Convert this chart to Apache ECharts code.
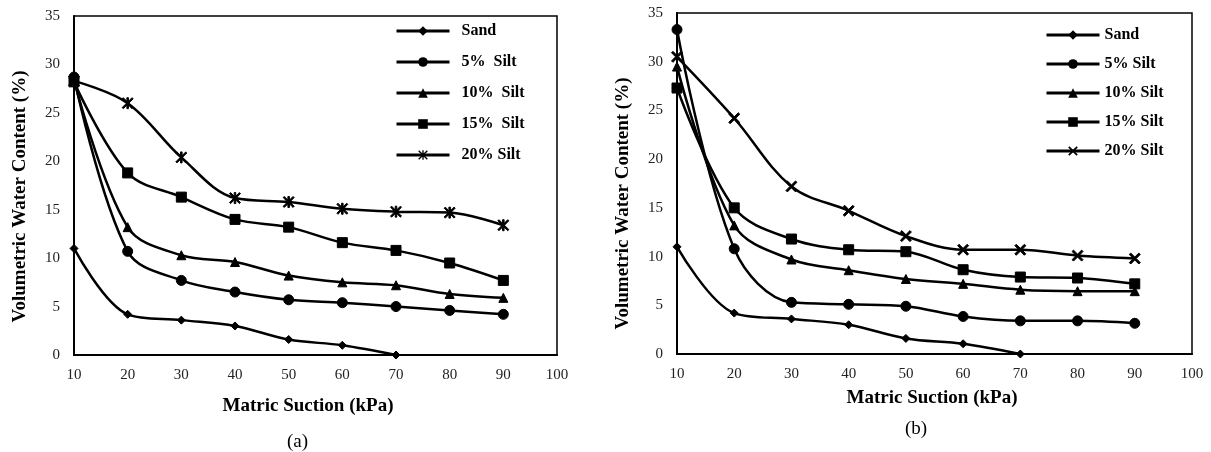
<!DOCTYPE html>
<html>
<head>
<meta charset="utf-8">
<script src="https://cdn.jsdelivr.net/npm/echarts@6/dist/echarts.min.js"></script>
<style>
  html, body { margin: 0; padding: 0; background: #fff; }
  #chart { width: 1211px; height: 452px; }
</style>
</head>
<body>
<div id="chart"></div>
<script>
// matric suction (kPa)
const suction = [10, 20, 30, 40, 50, 60, 70, 80, 90]
const seriesNames = ['Sand', '5% Silt', '10% Silt', '15% Silt', '20% Silt']
const legendNamesA = ['Sand', '5%  Silt', '10%  Silt', '15%  Silt', '20% Silt']

// panel (a) volumetric water content (%)
const sandA = [11.0, 4.2, 3.6, 3.0, 1.6, 1.0, 0]
const silt5A = [28.7, 10.7, 7.7, 6.5, 5.7, 5.4, 5.0, 4.6, 4.2]
const silt10A = [28.4, 13.2, 10.3, 9.6, 8.2, 7.5, 7.2, 6.3, 5.9]
const silt15A = [28.2, 18.8, 16.3, 14.0, 13.2, 11.6, 10.8, 9.5, 7.7]
const silt20A = [28.3, 26.0, 20.4, 16.2, 15.8, 15.1, 14.8, 14.7, 13.4]

// panel (b)
const sandB = [11.0, 4.2, 3.6, 3.0, 1.6, 1.05, 0]
const silt5B = [33.3, 10.8, 5.3, 5.1, 4.9, 3.85, 3.4, 3.4, 3.15]
const silt10B = [29.5, 13.2, 9.7, 8.6, 7.7, 7.2, 6.6, 6.45, 6.45]
const silt15B = [27.3, 15.0, 11.8, 10.7, 10.5, 8.65, 7.9, 7.8, 7.2]
const silt20B = [30.5, 24.2, 17.2, 14.7, 12.1, 10.7, 10.7, 10.1, 9.8]

const FONT = 'Liberation Serif'
const asterisk = 'path://M1,0 L5,4 L9,0 L10,1 L6,5 L10,9 L9,10 L5,6 L1,10 L0,9 L4,5 L0,1 Z M4.3,0 L5.7,0 L5.7,10 L4.3,10 Z'
const cross = 'path://M1.3,0 L5,3.7 L8.7,0 L10,1.3 L6.3,5 L10,8.7 L8.7,10 L5,6.3 L1.3,10 L0,8.7 L3.7,5 L0,1.3 Z'

const symbolsA = [['diamond', 8], ['circle', 10], ['triangle', 9], ['rect', 10], [asterisk, 11]]
const symbolsB = [['diamond', 8], ['circle', 10], ['triangle', 9], ['rect', 10], [cross, 11]]

const pair = (ys) => ys.map((v, i) => [suction[i], v])

const makeSeries = (prefix, datas, symbols, idx) => datas.map((d, i) => ({
  name: prefix + seriesNames[i],
  type: 'line',
  xAxisIndex: idx,
  yAxisIndex: idx,
  data: pair(d),
  smooth: 0.35,
  symbol: symbols[i][0],
  symbolSize: symbols[i][1],
  lineStyle: { color: '#000', width: 2.5 },
  itemStyle: { color: '#000', borderColor: '#000' },
  emphasis: { disabled: true },
  animation: false
}))

const xAxisBase = (idx, gap, pad) => ({
  type: 'value',
  gridIndex: idx,
  min: 10,
  max: 100,
  interval: 10,
  name: 'Matric Suction (kPa)',
  nameLocation: 'middle',
  nameGap: gap,
  nameTextStyle: { fontFamily: FONT, fontWeight: 'bold', fontSize: 19, color: '#000', padding: pad },
  axisLine: { lineStyle: { color: '#000', width: 2 } },
  axisTick: { show: false },
  axisLabel: { fontFamily: FONT, fontSize: 15, color: '#222', margin: 13 },
  splitLine: { show: false }
})

const yAxisBase = (idx, pad) => ({
  type: 'value',
  gridIndex: idx,
  min: 0,
  max: 35,
  interval: 5,
  name: 'Volumetric Water Content (%)',
  nameLocation: 'middle',
  nameGap: 44,
  nameTextStyle: { fontFamily: FONT, fontWeight: 'bold', fontSize: 19, color: '#000', padding: pad },
  axisLine: { show: true, lineStyle: { color: '#000', width: 2 } },
  axisTick: { show: false },
  axisLabel: { fontFamily: FONT, fontSize: 15, color: '#222', margin: 14 },
  splitLine: { show: false }
})

const legendBase = (prefix, names, left, top, gap, textPad) => ({
  data: seriesNames.map(n => prefix + n),
  orient: 'vertical',
  left: left,
  top: top,
  padding: 0,
  itemWidth: 53,
  itemHeight: 12,
  itemGap: gap,
  selectedMode: false,
  lineStyle: { width: 3, color: '#000' },
  formatter: (n) => names[seriesNames.indexOf(n.slice(prefix.length))],
  textStyle: { fontFamily: FONT, fontWeight: 'bold', fontSize: 16, color: '#000', padding: [0, 0, 0, textPad] }
})

const chart = echarts.init(document.getElementById('chart'))
chart.setOption({
  backgroundColor: '#fff',
  animation: false,
  title: [
    { text: '(a)', left: 282, top: 428, textStyle: { fontFamily: FONT, fontWeight: 'normal', fontSize: 19, color: '#000' } },
    { text: '(b)', left: 900, top: 415, textStyle: { fontFamily: FONT, fontWeight: 'normal', fontSize: 19, color: '#000' } }
  ],
  grid: [
    { left: 74, top: 16, width: 483, height: 339, show: true, borderColor: '#000', borderWidth: 1.5, backgroundColor: 'transparent' },
    { left: 677, top: 13, width: 515, height: 341, show: true, borderColor: '#000', borderWidth: 1.5, backgroundColor: 'transparent' }
  ],
  xAxis: [xAxisBase(0, 42, [0, 15, 0, 0]), xAxisBase(1, 35, [0, 5, 0, 0])],
  yAxis: [yAxisBase(0, [0, 22, 0, 0]), yAxisBase(1, [0, 40, 0, 0])],
  legend: [
    legendBase('a-', legendNamesA, 395, 23, 15, 7),
    legendBase('b-', seriesNames, 1045, 27, 13, 0)
  ],
  series: [
    ...makeSeries('a-', [sandA, silt5A, silt10A, silt15A, silt20A], symbolsA, 0),
    ...makeSeries('b-', [sandB, silt5B, silt10B, silt15B, silt20B], symbolsB, 1)
  ]
})
</script>
</body>
</html>
